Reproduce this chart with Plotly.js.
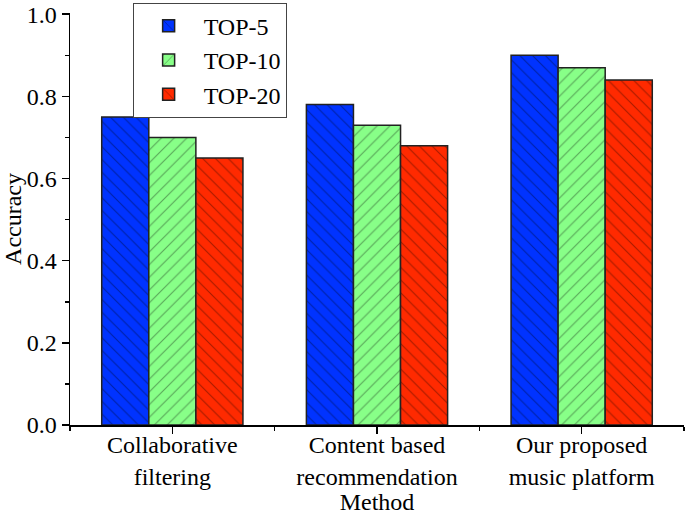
<!DOCTYPE html>
<html>
<head>
<meta charset="utf-8">
<script src="https://cdn.plot.ly/plotly-3.0.1.min.js"></script>
<style>
  html, body { margin: 0; padding: 0; background: #fff; }
  #chart { width: 685px; height: 521px; }
</style>
</head>
<body>
<div id="chart"></div>
<script>
// categories and series
const methods = ['Collaborative<br>filtering', 'Content based<br>recommendation', 'Our proposed<br>music platform'];
const top5 = [0.75, 0.78, 0.90];
const top10 = [0.70, 0.73, 0.87];
const top20 = [0.65, 0.68, 0.84];
const seriesNames = ['TOP-5', 'TOP-10', 'TOP-20'];
const yTicks = [0, 0.2, 0.4, 0.6, 0.8, 1.0];

const xIdx = methods.map((m, i) => i);
const font = 'Liberation Serif, Times New Roman, serif';

function barTrace(name, values, fill, shape) {
    return {
        type: 'bar',
        name: name,
        x: xIdx,
        y: values,
        marker: {
            color: fill,
            line: { color: '#222', width: 1.5 },
            pattern: {
                shape: shape, fillmode: 'overlay', bgcolor: fill,
                fgcolor: '#000', fgopacity: 0.35, size: 9, solidity: 0.12
            }
        }
    };
}

const traces = [
    barTrace(seriesNames[0], top5, '#0033ff', '\\'),
    barTrace(seriesNames[1], top10, '#88ff88', '/'),
    barTrace(seriesNames[2], top20, '#ff2a00', '\\')
];

const layout = {
    width: 685,
    height: 521,
    margin: { l: 70, r: 1, t: 13, b: 96 },
    paper_bgcolor: '#fff',
    plot_bgcolor: '#fff',
    font: { family: font, size: 24, color: '#000' },
    barmode: 'group',
    bargap: 0.31,
    bargroupgap: 0,
    showlegend: true,
    legend: {
        x: 0.102, y: 1.025, xanchor: 'left', yanchor: 'top',
        bordercolor: '#444', borderwidth: 1, bgcolor: '#fff',
        font: { family: font, size: 24 },
        itemwidth: 60,
        tracegroupgap: 0
    },
    xaxis: {
        range: [-0.5, 2.5],
        tickmode: 'array',
        tickvals: xIdx,
        ticktext: methods,
        ticks: 'outside', ticklen: 7, tickwidth: 1.5, tickcolor: '#000',
        ticklabelstandoff: -9,
        minor: { tickmode: 'array', tickvals: [-0.5, 0.5, 1.5, 2.5], ticks: 'outside', ticklen: 4, tickwidth: 1.5, tickcolor: '#000' },
        showline: true, linecolor: '#000', linewidth: 1.5,
        showgrid: false, zeroline: false,
        tickfont: { family: font, size: 24 },
        title: { text: 'Method', font: { family: font, size: 24 }, standoff: 0 }
    },
    yaxis: {
        range: [0, 1.003],
        tickmode: 'array',
        tickvals: yTicks,
        tickformat: '.1f',
        ticklabeloverflow: 'allow',
        ticks: 'outside', ticklen: 7, tickwidth: 1.5, tickcolor: '#000',
        minor: { dtick: 0.1, ticks: 'outside', ticklen: 4, tickwidth: 1.5, tickcolor: '#000' },
        showline: true, linecolor: '#000', linewidth: 1.5,
        showgrid: false, zeroline: false,
        tickfont: { family: font, size: 24 },
        title: { text: 'Accuracy', font: { family: font, size: 24 }, standoff: 6 }
    }
};

Plotly.newPlot('chart', traces, layout, { displayModeBar: false, staticPlot: true });
</script>
</body>
</html>
